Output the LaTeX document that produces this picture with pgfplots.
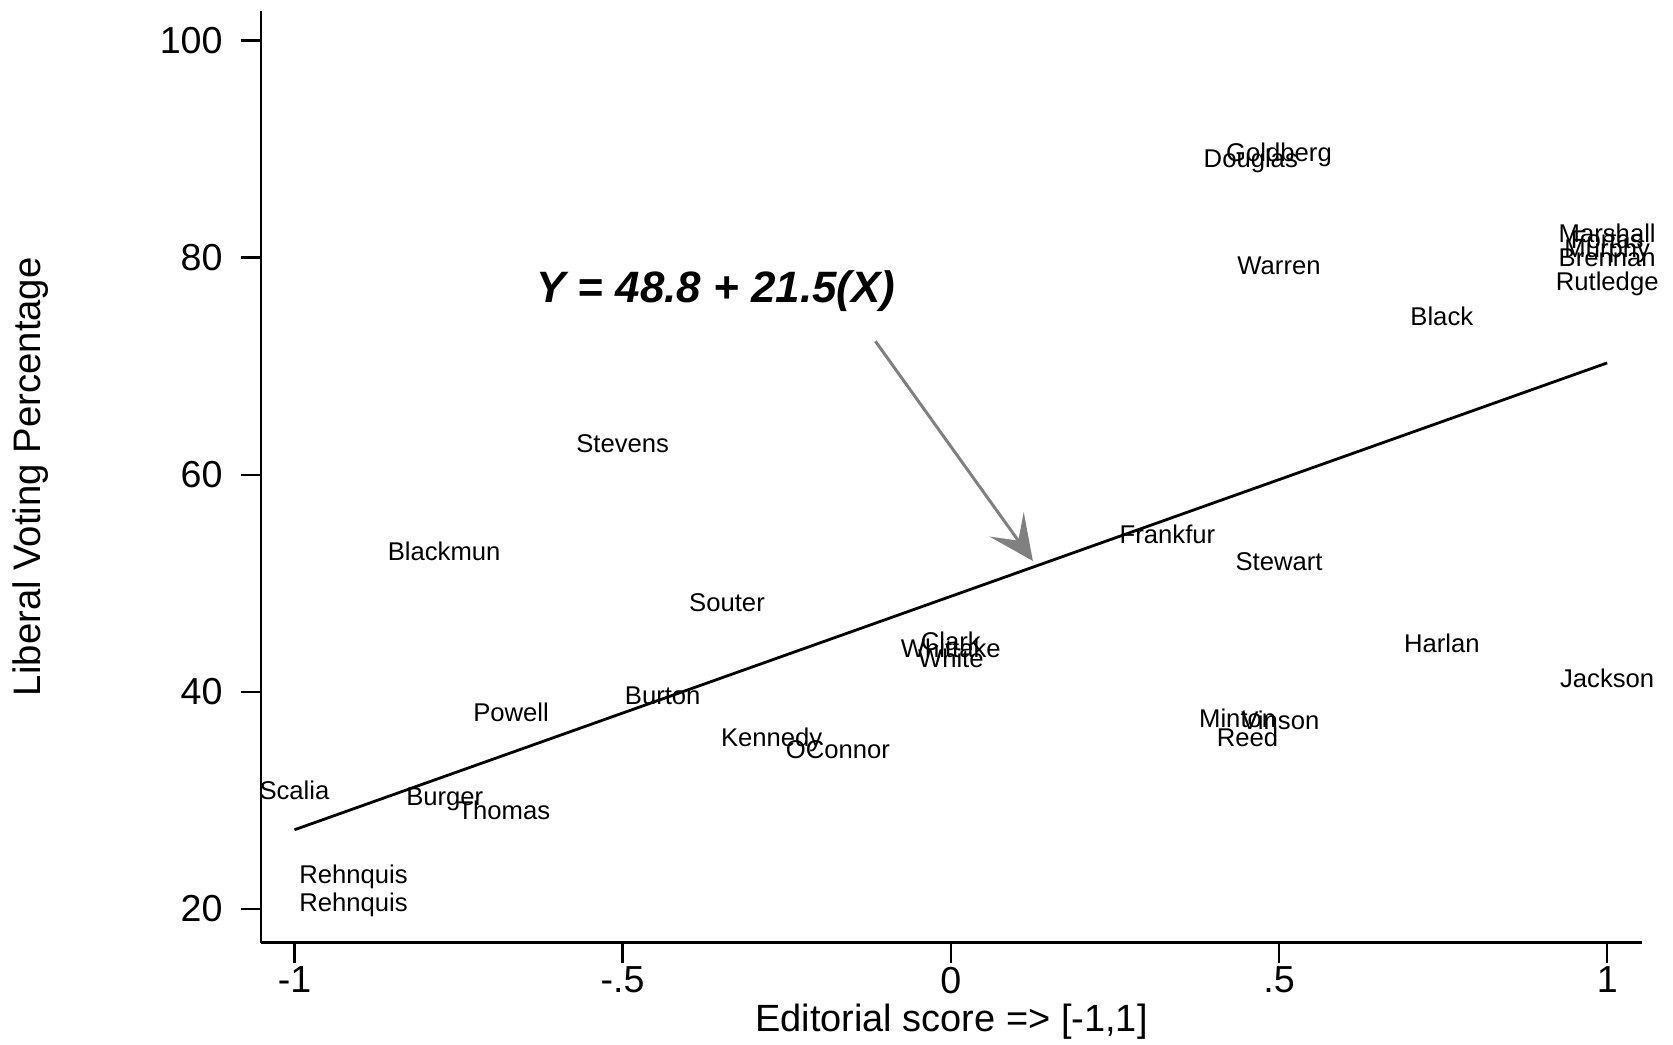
\documentclass[border=0pt]{standalone}
\usepackage{pgfplots}
\pgfplotsset{compat=1.18}
\usepackage{pgfplotstable}
\usepackage{fontspec}
\setmainfont{Liberation Sans}
\usetikzlibrary{arrows.meta}
\definecolor{arrgray}{RGB}{128,128,128}
\pgfplotstableread{
name x y
Goldberg 0.50 89.7
Douglas 0.457 89.2
Marshall 1.0 82.3
Fortas 1.0 81.7
Murphy 1.0 80.9
Brennan 1.0 80.1
Rutledge 1.0 77.9
Warren 0.50 79.3
Black 0.748 74.6
Stevens -0.50 62.9
Blackmun -0.772 53.0
Frankfur 0.33 54.6
Stewart 0.50 52.1
Souter -0.341 48.3
Clark 0.0 44.7
Whittake 0.0 44.1
White 0.0 43.1
Harlan 0.748 44.5
Jackson 1.0 41.3
Powell -0.67 38.2
Burton -0.439 39.7
Minton 0.437 37.6
Vinson 0.502 37.4
Reed 0.452 35.9
Kennedy -0.273 35.9
OConnor -0.172 34.8
Scalia -1.0 31.0
Burger -0.771 30.4
Thomas -0.681 29.1
Rehnquis -0.91 23.2
Rehnquis -0.91 20.7
}\justices
\begin{document}
\begin{tikzpicture}
\useasboundingbox (-2.61cm,-1.013cm) rectangle (14.12cm,9.427cm);
\begin{axis}[
  at={(0,0)}, anchor=south west,
  scale only axis,
  width=13.81cm, height=9.32cm,
  xmin=-1.051, xmax=1.053,
  ymin=16.90, ymax=102.74,
  axis lines*=left,
  axis line style={line width=0.7pt, -},
  clip=false,
  xtick={-1,-0.5,0,0.5,1},
  xticklabels={-1,-.5,0,.5,1},
  ytick={20,40,60,80,100},
  yticklabels={20,40,60,80,100},
  tick align=outside,
  major tick length=2mm,
  tick style={line width=0.7pt, black},
  tick label style={font=\fontsize{10.7}{12}\selectfont},
  yticklabel style={xshift=-0.6mm},
  xticklabel style={yshift=0.8mm},
]
\addplot[only marks, mark=none, nodes near coords, point meta=explicit symbolic,
  every node near coord/.style={anchor=center, yshift=0.3mm, inner sep=0pt, text height=0.72em, text depth=0pt, font=\fontsize{7.3}{8.5}\selectfont}]
  table[x=x, y=y, meta=name] {\justices};
\addplot[black, line width=0.8pt] coordinates {(-1,27.3) (1,70.3)};
\draw[arrgray, line width=0.85pt, -{Stealth[length=4.5mm, width=4.2mm, inset=2mm]}] (axis cs:-0.115,72.3) -- (axis cs:0.125,52.06);
\node[anchor=base, font=\fontsize{12.5}{14}\selectfont\bfseries\itshape] at (axis cs:-0.358,75.9) {Y = 48.8 + 21.5(X)};
\node[anchor=base, font=\fontsize{10.8}{13}\selectfont] at ([yshift=-8.9mm]rel axis cs:0.5,0) {Editorial score => [-1,1]};
\node[rotate=90, anchor=center, font=\fontsize{10.9}{13}\selectfont] at ([xshift=-23.0mm]rel axis cs:0,0.5) {Liberal Voting Percentage};
\end{axis}
\end{tikzpicture}
\end{document}
